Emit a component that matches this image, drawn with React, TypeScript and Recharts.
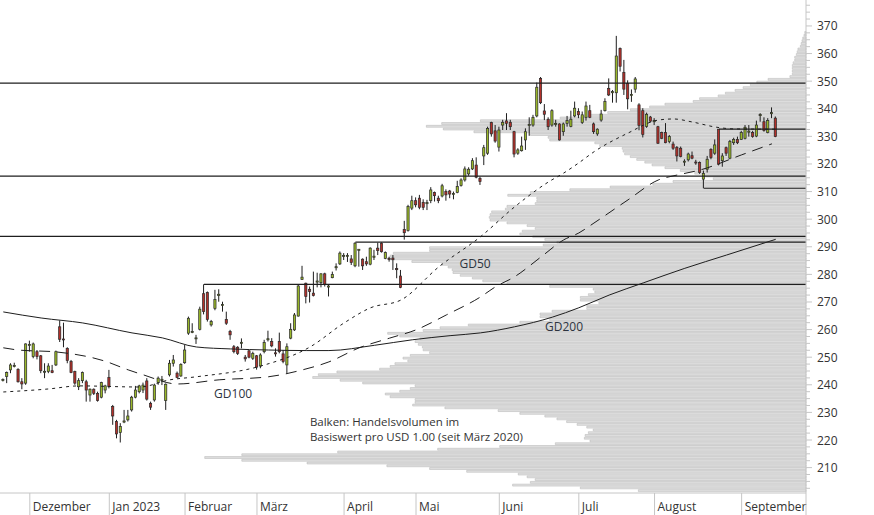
import {
  ComposedChart,
  BarChart,
  Bar,
  Line,
  XAxis,
  YAxis,
  ReferenceLine,
  ReferenceDot,
} from 'recharts';

const W = 874;
const H = 515;
const FONT = '"Open Sans", "Noto Sans", sans-serif';
const Y_MIN = 200.8;
const Y_MAX = 379.4;
const X_MIN = -0.87;
const X_MAX = 212;

// Tageskerzen, Index 0 = 21.11.2022
const OPEN = [
  241.6, 243.0, 245.4, 246.6, 245.6, 241.1, 240.6, 254.2, 250.2, 252.0,
  250.5, 244.6, 244.8, 245.1, 247.2, 261.0, 256.6, 253.2, 248.4, 244.8,
  239.3, 241.5, 241.1, 236.3, 238.4, 236.9, 235.5, 238.1, 242.7, 232.1,
  226.7, 222.7, 226.5, 227.3, 230.9, 235.5, 237.5, 238.1, 241.4, 233.3,
  234.5, 240.8, 241.6, 234.3, 243.6, 247.8, 244.2, 243.2, 248.0, 258.7,
  259.0, 256.7, 260.1, 273.0, 273.4, 261.7, 267.7, 272.3, 268.7, 263.7,
  259.3, 253.8, 253.6, 255.0, 250.0, 252.3, 249.6, 250.5, 246.8, 252.0,
  256.3, 255.7, 251.6, 255.7, 251.2, 247.2, 256.9, 259.9, 264.9, 278.2,
  276.8, 274.6, 273.2, 277.2, 277.0, 280.2, 275.4, 278.8, 282.4, 283.8,
  286.5, 286.5, 285.6, 283.1, 288.7, 285.5, 284.6, 283.7, 286.2, 289.5,
  291.3, 285.8, 285.8, 285.9, 282.1, 279.4, 296.3, 295.9, 304.0, 306.7,
  307.6, 306.1, 305.6, 306.7, 309.7, 307.6, 308.4, 310.0, 310.2, 308.9,
  309.7, 312.2, 314.2, 316.4, 318.2, 319.6, 314.8, 322.9, 323.9, 335.0,
  332.0, 326.1, 334.1, 335.6, 335.1, 331.7, 323.9, 324.8, 328.7, 333.9,
  334.1, 337.4, 351.0, 339.2, 336.2, 334.1, 334.3, 334.5, 331.7, 334.7,
  333.6, 337.4, 339.0, 335.0, 336.9, 339.3, 334.5, 330.9, 335.9, 339.3,
  347.4, 345.8, 345.8, 361.8, 353.2, 349.2, 344.8, 347.1, 341.4, 339.3,
  333.6, 337.0, 335.3, 333.5, 331.4, 331.4, 328.1, 327.2, 326.0, 325.7,
  320.7, 321.5, 323.0, 320.7, 320.5, 314.5, 318.1, 325.3, 323.9, 332.6,
  321.2, 325.9, 322.1, 327.7, 328.9, 328.9, 329.3, 331.5, 331.4, 330.1,
  337.5, 335.3, 331.4, 338.2, 336.6,
];
const HIGH = [
  242.3, 244.8, 247.8, 248.0, 246.0, 242.4, 255.0, 256.0, 255.3, 252.6,
  250.8, 247.8, 247.8, 247.2, 252.4, 263.3, 262.5, 253.6, 249.0, 245.1,
  242.4, 244.8, 241.8, 238.7, 238.7, 237.5, 241.1, 240.0, 245.4, 232.7,
  227.3, 226.1, 230.9, 230.9, 236.0, 239.6, 240.0, 240.8, 242.4, 233.9,
  240.4, 243.0, 243.2, 240.5, 249.0, 250.8, 244.8, 247.8, 254.4, 264.7,
  262.3, 258.1, 268.3, 276.4, 273.8, 263.5, 274.4, 274.6, 270.1, 266.5,
  259.9, 254.4, 254.0, 256.8, 250.8, 252.6, 252.0, 250.8, 251.4, 256.3,
  259.6, 256.9, 253.2, 258.9, 252.6, 255.0, 262.3, 266.0, 276.2, 283.1,
  277.0, 275.6, 281.0, 280.6, 280.4, 280.6, 276.2, 281.0, 284.0, 288.3,
  287.7, 287.7, 287.0, 291.65, 289.2, 285.8, 286.4, 289.8, 288.9, 291.5,
  291.6, 288.3, 286.4, 287.0, 284.0, 281.6, 299.4, 305.2, 308.5, 307.9,
  308.8, 307.2, 307.0, 311.6, 310.0, 308.5, 312.8, 310.8, 310.6, 310.0,
  313.9, 314.8, 319.1, 318.8, 322.1, 322.4, 315.4, 326.9, 333.5, 335.3,
  334.1, 333.5, 336.0, 338.4, 336.0, 332.0, 325.7, 329.9, 332.9, 336.9,
  337.8, 349.5, 351.5, 341.7, 336.9, 339.8, 336.0, 334.7, 335.0, 337.4,
  339.3, 342.6, 340.2, 339.0, 342.6, 341.4, 335.0, 332.9, 339.6, 343.8,
  351.0, 346.8, 366.4, 362.2, 357.7, 350.3, 347.0, 351.5, 342.0, 340.2,
  338.6, 337.4, 336.6, 333.8, 331.7, 334.8, 330.5, 328.1, 326.5, 326.3,
  321.7, 324.1, 324.5, 321.5, 320.9, 317.6, 322.9, 325.7, 328.9, 332.6,
  323.9, 326.3, 328.7, 329.5, 329.9, 332.0, 334.1, 334.1, 332.0, 335.7,
  338.4, 336.9, 336.6, 340.5, 337.2,
];
const LOW = [
  241.2, 240.6, 244.2, 246.3, 240.8, 238.4, 240.0, 252.0, 249.6, 249.2,
  244.2, 242.4, 244.2, 244.2, 246.8, 255.5, 253.6, 247.8, 244.2, 240.0,
  238.1, 240.6, 233.9, 233.9, 236.3, 233.9, 235.1, 236.9, 238.7, 225.5,
  220.6, 219.1, 226.1, 226.7, 230.3, 235.1, 236.9, 237.0, 234.3, 230.9,
  233.9, 240.0, 239.9, 230.9, 243.0, 246.6, 242.4, 242.9, 247.6, 258.1,
  258.7, 254.8, 259.7, 265.5, 262.9, 261.1, 267.0, 270.1, 266.5, 261.7,
  256.3, 251.4, 250.8, 253.2, 248.4, 249.6, 249.0, 245.5, 246.0, 251.4,
  255.7, 253.6, 250.2, 251.4, 247.8, 244.2, 256.5, 259.5, 264.7, 278.0,
  269.5, 269.8, 272.0, 275.3, 275.3, 275.6, 272.0, 278.6, 281.4, 283.4,
  285.2, 284.5, 283.4, 282.6, 282.8, 281.6, 283.1, 283.3, 285.2, 287.0,
  287.9, 285.5, 284.6, 281.6, 278.6, 275.0, 292.6, 295.5, 303.3, 304.3,
  303.6, 303.3, 303.3, 305.8, 306.4, 305.8, 307.9, 306.7, 307.6, 307.2,
  309.4, 311.8, 313.6, 315.7, 317.8, 314.8, 312.4, 319.6, 323.3, 329.9,
  327.7, 324.5, 332.3, 332.3, 332.3, 322.4, 323.3, 324.5, 325.1, 330.2,
  333.5, 336.9, 341.7, 335.9, 332.3, 333.5, 333.5, 328.5, 330.2, 333.5,
  333.3, 336.9, 336.6, 334.5, 335.7, 336.6, 330.9, 330.2, 335.3, 339.0,
  344.6, 342.2, 342.2, 353.5, 345.0, 339.8, 342.5, 345.8, 332.2, 329.6,
  333.1, 335.0, 334.1, 327.3, 329.0, 327.5, 327.5, 325.1, 320.9, 322.4,
  319.3, 320.9, 321.7, 319.7, 316.4, 311.2, 316.9, 321.7, 323.3, 319.5,
  319.0, 322.9, 321.7, 326.9, 327.2, 328.7, 328.9, 329.9, 329.5, 329.7,
  335.3, 331.7, 331.1, 336.6, 329.7,
];
const CLOSE = [
  241.9, 244.4, 247.2, 247.0, 241.1, 240.3, 254.8, 254.6, 254.8, 250.2,
  245.1, 244.9, 246.8, 244.4, 252.0, 256.5, 256.3, 248.8, 244.4, 240.6,
  241.5, 244.4, 238.1, 238.4, 236.9, 234.3, 240.8, 239.6, 239.3, 228.7,
  222.2, 224.9, 226.9, 228.7, 235.5, 238.1, 239.6, 239.9, 234.8, 231.9,
  239.9, 242.4, 242.0, 240.2, 247.8, 249.0, 242.7, 247.4, 252.6, 264.1,
  259.3, 257.0, 267.4, 266.5, 263.7, 262.9, 270.9, 272.8, 269.1, 262.3,
  258.1, 252.0, 251.4, 255.4, 249.4, 250.0, 251.4, 246.4, 250.8, 255.3,
  256.7, 254.1, 251.2, 252.0, 248.4, 253.8, 260.1, 265.3, 275.8, 279.0,
  272.0, 273.8, 272.3, 277.6, 280.2, 276.4, 275.8, 280.0, 282.8, 287.7,
  286.9, 286.9, 284.3, 291.3, 289.1, 283.1, 283.8, 289.5, 286.6, 288.6,
  288.2, 287.9, 285.4, 285.3, 281.7, 275.3, 295.1, 304.6, 306.7, 305.2,
  304.3, 304.3, 306.0, 310.6, 308.5, 306.7, 312.1, 308.8, 309.1, 309.3,
  311.8, 314.2, 318.2, 318.1, 321.2, 315.2, 313.6, 325.9, 332.9, 330.9,
  328.3, 332.3, 335.1, 334.7, 333.5, 323.6, 325.1, 326.5, 331.7, 334.3,
  336.9, 347.8, 342.2, 338.0, 333.5, 339.3, 334.7, 328.7, 334.5, 335.7,
  336.2, 340.2, 337.8, 337.8, 341.0, 336.9, 331.7, 332.6, 338.1, 342.6,
  345.0, 346.2, 359.1, 355.4, 347.1, 343.6, 345.2, 350.8, 334.0, 330.7,
  338.0, 335.5, 335.7, 327.5, 329.3, 327.7, 329.9, 325.7, 322.9, 322.7,
  321.0, 323.6, 322.1, 320.4, 316.9, 316.6, 321.7, 322.3, 326.9, 319.9,
  322.9, 323.9, 328.1, 328.9, 327.7, 331.4, 333.3, 331.9, 329.9, 334.1,
  337.9, 332.1, 335.7, 338.6, 329.9,
];

const GD50_AT = [0, 12, 20, 36, 44, 51, 68, 81, 90, 97, 105, 115, 126, 135, 144, 148, 152, 156, 165, 173, 177, 182, 188, 193, 204];
const GD50 = [237.4, 238.5, 239.6, 239.2, 241.8, 242.9, 246.8, 253.7, 262.4, 267.9, 270.7, 282.7, 293.6, 304.4, 313.5, 316.7, 320.4, 324.4, 331.2, 335.9, 336.3, 335.2, 333.4, 332.7, 332.6];
const GD100_AT = [0, 4, 14, 27, 33, 37, 46, 57, 70, 79, 86, 94, 102, 109, 117, 126, 130, 135, 142, 148, 152, 156, 165, 173, 178, 184, 195, 203];
const GD100 = [253.4, 252.6, 251.9, 248.5, 245.4, 243.6, 240.3, 241.8, 242.9, 245.4, 248.3, 253.4, 256.9, 259.9, 265.3, 271.8, 275.5, 279.1, 286.3, 292.5, 295.0, 298.6, 307.0, 314.2, 316.0, 317.8, 323.3, 327.3];
const GD200_AT = [0, 10, 21, 34, 42, 51, 60, 70, 80, 86, 98, 108, 118, 126, 135, 145, 152, 160, 169, 180, 191, 204];
const GD200 = [266.4, 264.2, 262.4, 258.8, 257.0, 253.7, 253.0, 252.6, 252.4, 252.4, 254.3, 256.3, 257.8, 258.8, 261.0, 264.5, 267.9, 272.5, 276.9, 282.2, 287.0, 292.7];

// Linien
const LEVELS = [349.3, 315.6, 293.8];
const MARK_FROM = [53, 93, 185, 189];
const MARK_AT = [276.4, 291.65, 311.2, 332.6];

const MONTH_AT = [7, 28, 48, 67, 90, 109, 131, 152, 172, 195, 212];
const MONTH_LABEL = ['Dezember', 'Jan 2023', 'Februar', 'März', 'April', 'Mai', 'Juni', 'Juli', 'August', 'September', ''];

// Handelsvolumen je USD 1.00, ab 201 USD
const PROFILE_FROM = 201;
const PROFILE_VOL = [
  20.8, 28.0, 36.4, 34.2, 33.6, 34.6, 35.7, 42.1, 46.7, 52.0,
  61.9, 70.0, 74.6, 70.0, 58.1, 45.7, 38.0, 31.1, 26.8, 27.5,
  27.4, 27.0, 26.4, 27.2, 28.4, 29.7, 30.9, 32.4, 35.5, 38.2,
  44.8, 48.8, 48.5, 48.5, 51.6, 52.2, 50.4, 49.1, 48.5, 55.0,
  57.8, 61.2, 60.5, 58.2, 52.9, 51.6, 51.0, 49.4, 50.0, 49.1,
  46.7, 47.5, 47.6, 48.1, 48.5, 47.9, 50.4, 51.9, 47.5, 45.4,
  41.9, 35.5, 31.8, 33.0, 33.0, 31.5, 27.2, 27.2, 25.7, 28.0,
  28.0, 27.0, 26.2, 26.4, 31.8, 37.1, 40.1, 41.4, 42.9, 43.8,
  43.9, 44.4, 45.2, 48.9, 51.9, 51.6, 51.2, 46.7, 46.7, 32.6,
  30.9, 32.4, 33.9, 35.5, 35.2, 33.6, 34.6, 37.1, 39.2, 39.3,
  39.2, 39.0, 37.3, 37.1, 33.6, 33.4, 33.4, 37.0, 34.2, 29.3,
  24.3, 19.0, 16.5, 11.5, 12.5, 13.8, 15.6, 17.5, 19.1, 20.0,
  21.0, 21.8, 22.5, 22.7, 22.8, 25.6, 26.2, 31.8, 32.0, 34.2,
  41.2, 45.0, 47.1, 45.2, 40.4, 30.5, 26.8, 24.6, 21.8, 19.4,
  17.5, 14.0, 13.2, 10.9, 10.0, 8.8, 7.8, 6.9, 6.1, 4.7,
  2.0, 1.7, 1.7, 1.7, 1.7, 1.6, 1.4, 1.4, 1.2, 1.1,
  1.0, 0.7, 0.6, 0.5, 0.4, 0.25, 0.15,
];

const UP = '#9ab82a';
const DOWN = '#b3302a';
const INK = '#1e1e1e';
const AXIS = '#c6c6c6';
const TEXT = '#333';

const rows = OPEN.map((o, i) => ({ i, o, h: HIGH[i], l: LOW[i], c: CLOSE[i] }));
const gd50Rows = GD50_AT.map((i, k) => ({ i, v: GD50[k] }));
const gd100Rows = GD100_AT.map((i, k) => ({ i, v: GD100[k] }));
const gd200Rows = GD200_AT.map((i, k) => ({ i, v: GD200[k] }));

const profile = PROFILE_VOL.map((v, k) => ({ p: PROFILE_FROM + k + 0.5, v }));

const yTicks: number[] = [];
for (let v = 202.5; v <= 377.5; v += 2.5) yTicks.push(v);

function Candle(props: any) {
  const { x, y, width, height, payload } = props;
  if (x == null || y == null || !payload) return null;
  const { o, h, l, c } = payload;
  const top = Math.min(y, y + height);
  const span = Math.abs(height);
  const k = span / (h - l || 1);
  const at = (v: number) => top + (h - v) * k;
  const cx = x + width / 2;
  const bTop = at(Math.max(o, c));
  const bH = Math.max(1, Math.abs(at(o) - at(c)));
  return (
    <g>
      <line x1={cx} x2={cx} y1={top} y2={top + span} stroke={INK} strokeWidth={1} />
      <rect
        x={x + 0.4}
        y={bTop}
        width={width - 0.8}
        height={bH}
        fill={c >= o ? UP : DOWN}
        stroke="#2a2a2a"
        strokeWidth={0.7}
      />
    </g>
  );
}

function YTick(props: any) {
  const { x, y, payload } = props;
  const v = payload.value;
  const major = Math.abs(v - Math.round(v)) < 0.01 && Math.round(v) % 10 === 0;
  return (
    <g>
      <line x1={x} x2={x + (major ? 6 : 4)} y1={y} y2={y} stroke={AXIS} />
      {major && (
        <text x={x + 11} y={y + 4.5} fontSize={12} fill={TEXT} fontFamily={FONT}>
          {v}
        </text>
      )}
    </g>
  );
}

function XTick(props: any) {
  const { x, y, payload } = props;
  const label = MONTH_LABEL[MONTH_AT.indexOf(payload.value)] ?? '';
  return (
    <g>
      <line x1={x} x2={x} y1={y} y2={y + 22} stroke={AXIS} />
      <text x={x + 3} y={y + 18} fontSize={12} fill={TEXT} fontFamily={FONT}>
        {label}
      </text>
    </g>
  );
}

const gdLabel = (value: string) => ({
  value,
  position: 'center' as const,
  fill: '#2d3440',
  fontSize: 12,
  fontFamily: FONT,
});

function Note(props: any) {
  const { x, y } = props.viewBox;
  return (
    <text x={x} y={y} fontSize={11.5} fill={TEXT} fontFamily={FONT}>
      <tspan x={x} dy={-3}>Balken: Handelsvolumen im</tspan>
      <tspan x={x} dy={15}>Basiswert pro USD 1.00 (seit März 2020)</tspan>
    </text>
  );
}

export default function App() {
  return (
    <div style={{ position: 'absolute', left: 0, top: 0, width: W, height: H, background: '#fff' }}>
      <div style={{ position: 'absolute', left: 0, top: 0 }}>
        <BarChart
          width={W}
          height={H}
          data={profile}
          layout="vertical"
          margin={{ top: 0, right: 68, bottom: 22, left: 0 }}
        >
          <XAxis type="number" domain={[0, 100]} reversed hide />
          <YAxis type="number" dataKey="p" domain={[Y_MIN, Y_MAX]} allowDataOverflow reversed hide />
          <Bar
            dataKey="v"
            barSize={1.9}
            fill="#e0e0e0"
            stroke="#bcbcbc"
            strokeWidth={0.6}
            isAnimationActive={false}
          />
        </BarChart>
      </div>
      <div style={{ position: 'absolute', left: 0, top: 0 }}>
        <ComposedChart
          width={W}
          height={H}
          data={rows}
          margin={{ top: 0, right: 0, bottom: 0, left: 0 }}
          style={{ fontFamily: FONT }}
        >
          <XAxis
            type="number"
            dataKey="i"
            domain={[X_MIN, X_MAX]}
            allowDataOverflow
            ticks={MONTH_AT}
            interval={0}
            height={22}
            tickSize={0}
            tickMargin={0}
            tickLine={false}
            axisLine={{ stroke: AXIS }}
            tick={<XTick />}
          />
          <YAxis
            type="number"
            orientation="right"
            domain={[Y_MIN, Y_MAX]}
            allowDataOverflow
            ticks={yTicks}
            interval={0}
            width={68}
            tickSize={0}
            tickMargin={0}
            tickLine={false}
            axisLine={{ stroke: AXIS }}
            tick={<YTick />}
          />
          {LEVELS.map((v) => (
            <ReferenceLine key={v} y={v} stroke={INK} strokeWidth={1.2} />
          ))}
          {MARK_FROM.map((from, k) => (
            <ReferenceLine
              key={from}
              segment={[
                { x: from, y: MARK_AT[k] },
                { x: X_MAX, y: MARK_AT[k] },
              ]}
              stroke={INK}
              strokeWidth={1.2}
            />
          ))}
          <Line
            data={gd200Rows}
            dataKey="v"
            type="monotone"
            stroke={INK}
            strokeWidth={1}
            dot={false}
            activeDot={false}
            isAnimationActive={false}
          />
          <Line
            data={gd100Rows}
            dataKey="v"
            type="monotone"
            stroke={INK}
            strokeWidth={1}
            strokeDasharray="11 7"
            dot={false}
            activeDot={false}
            isAnimationActive={false}
          />
          <Line
            data={gd50Rows}
            dataKey="v"
            type="monotone"
            stroke={INK}
            strokeWidth={1}
            strokeDasharray="3 4"
            dot={false}
            activeDot={false}
            isAnimationActive={false}
          />
          <Bar
            dataKey={(d: any) => [d.l, d.h]}
            barSize={3}
            shape={(p: any) => <Candle {...p} />}
            isAnimationActive={false}
          />
          <ReferenceDot x={124.6} y={283.8} r={0.1} fill="none" stroke="none" label={gdLabel('GD50')} />
          <ReferenceDot x={60.7} y={236.7} r={0.1} fill="none" stroke="none" label={gdLabel('GD100')} />
          <ReferenceDot x={148.1} y={261.0} r={0.1} fill="none" stroke="none" label={gdLabel('GD200')} />
          <ReferenceDot x={81} y={223.8} r={0.1} fill="none" stroke="none" label={(p: any) => <Note {...p} />} />
        </ComposedChart>
      </div>
    </div>
  );
}
